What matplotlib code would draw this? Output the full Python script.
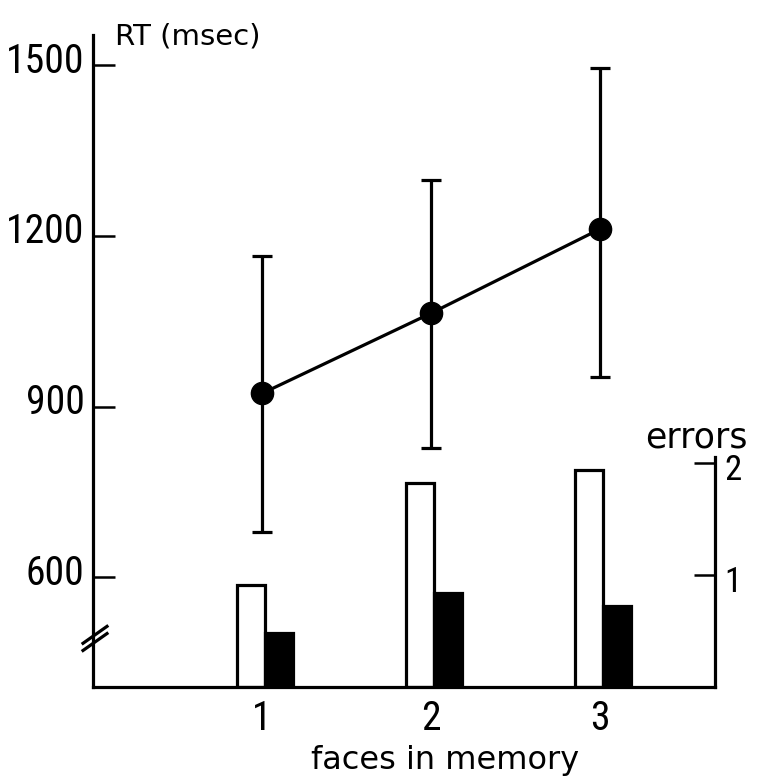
import os
import matplotlib
matplotlib.use("Agg")
import matplotlib.pyplot as plt
import matplotlib.transforms as mtransforms
from matplotlib import font_manager
from matplotlib.font_manager import FontProperties
from matplotlib.textpath import TextPath

# dados
faces = [1, 2, 3]
rt_mean = [923, 1064, 1212]
rt_low = [680, 827, 951]
rt_high = [1164, 1298, 1495]
errors_white = [0.91, 1.82, 1.94]
errors_black = [0.48, 0.84, 0.72]
rt_ticks = [600, 900, 1200, 1500]
err_ticks = [1, 2]

# procura uma fonte estreita para os números
prefer = ["liberationsansnarrow-regular", "notosans-extracondensed.", "notosans-condensed.",
          "robotocondensed-regular", "dejavusanscondensed.", "notosans-semicondensed.",
          "liberationsans-regular", "dejavusans."]
files = {os.path.basename(f.fname).lower(): f.fname for f in font_manager.fontManager.ttflist}
num_file = None
for p in prefer:
    for k in files:
        if k.startswith(p):
            num_file = files[k]
            break
    if num_file:
        break


def num_font(target_px):
    # tamanho tal que "1500" tenha ~target_px de largura
    fp = FontProperties(fname=num_file)
    wpt = TextPath((0, 0), "1500", size=10, prop=fp).get_extents().width
    size = min(31, 10 * (target_px * 0.72) / wpt)
    return FontProperties(fname=num_file, size=size)


fp_y = num_font(73)
fp_r = FontProperties(fname=num_file, size=fp_y.get_size() * 0.88)

fig = plt.figure(figsize=(7.61, 7.84), dpi=100)
ax = fig.add_axes([93 / 761, 97 / 784, 622 / 761, 652 / 784])
ax2 = ax.twinx()
ax.set_zorder(2)
ax.patch.set_visible(False)

lw = 2.3

# barras de erros (eixo direito)
w = 0.165
ax2.bar([x - 0.065 for x in faces], errors_white, width=w, color="white",
        edgecolor="black", linewidth=lw)
ax2.bar([x + 0.10 for x in faces], errors_black, width=w, color="black",
        edgecolor="black", linewidth=lw)

# tempos de reação com barras de erro
yerr = [[m - lo for m, lo in zip(rt_mean, rt_low)],
        [hi - m for m, hi in zip(rt_mean, rt_high)]]
ax.errorbar(faces, rt_mean, yerr=yerr, fmt="o-", color="black", lw=lw,
            elinewidth=lw, capsize=7, capthick=lw, markersize=16)

ax.set_xlim(0, 3.68)
ax.set_ylim(407, 1553)
ax2.set_ylim(0, 5.82)

for a in (ax, ax2):
    a.spines["top"].set_visible(False)
    for s in a.spines.values():
        s.set_linewidth(lw)
ax.spines["right"].set_visible(False)
ax2.spines["left"].set_visible(False)
ax2.spines["bottom"].set_visible(False)
ax2.spines["right"].set_bounds(0, 2.05)

ax.set_xticks(faces)
ax.set_xticklabels([str(f) for f in faces], fontproperties=fp_y)
ax.tick_params(axis="x", length=0, pad=9)
ax.set_yticks(rt_ticks)
ax.set_yticklabels([str(t) for t in rt_ticks], fontproperties=fp_y)
ax.tick_params(axis="y", direction="in", length=16, width=1.8, pad=6)
ax2.set_yticks(err_ticks)
ax2.set_yticklabels([str(t) for t in err_ticks], fontproperties=fp_r)
ax2.tick_params(axis="y", direction="in", length=15, width=1.8, pad=7)

# rótulos do eixo y um pouco acima do traço
up = mtransforms.ScaledTranslation(0, 8 / 100, fig.dpi_scale_trans)
for lab in ax.get_yticklabels():
    lab.set_transform(lab.get_transform() + up)
down = mtransforms.ScaledTranslation(0, -4 / 100, fig.dpi_scale_trans)
for lab in ax2.get_yticklabels():
    lab.set_transform(lab.get_transform() + down)

# quebra do eixo
for dy in (0.0, 0.011):
    ax.plot([-10 / 622, 14 / 622], [0.056 + dy, 0.082 + dy], color="black",
            lw=lw, transform=ax.transAxes, clip_on=False)

fig.text(115 / 761, 1 - 45 / 784, "RT (msec)", fontsize=21, va="baseline")
fig.text(645 / 761, 1 - 447 / 784, "errors", fontsize=25, va="baseline")
ax.set_xlabel("faces in memory", fontsize=23)
ax.xaxis.set_label_coords((445 - 93) / 622, (687 - 745) / 652)

fig.savefig("out.png", dpi=100)
